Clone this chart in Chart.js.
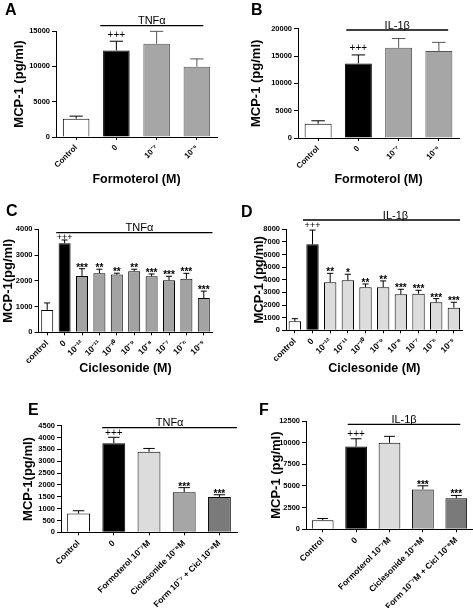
<!DOCTYPE html>
<html>
<head>
<meta charset="utf-8">
<script src="https://cdn.jsdelivr.net/npm/chart.js@4.4.1/dist/chart.umd.min.js"></script>
<style>
  body { margin: 0; background: #fff; }
  #wrap { position: relative; width: 473px; height: 608px; overflow: hidden; }
  canvas { position: absolute; }
</style>
</head>
<body>
<div id="wrap">
  <canvas id="panelA" width="236" height="198" style="left:0;top:0"></canvas>
  <canvas id="panelB" width="237" height="198" style="left:236px;top:0"></canvas>
  <canvas id="panelC" width="236" height="202" style="left:0;top:198px"></canvas>
  <canvas id="panelD" width="237" height="202" style="left:236px;top:198px"></canvas>
  <canvas id="panelE" width="240" height="208" style="left:0;top:400px"></canvas>
  <canvas id="panelF" width="237" height="208" style="left:236px;top:400px"></canvas>
</div>
<script>
// data (MCP-1, pg/ml; mean and upper SEM)
const formLabels = ['Control', '0', '10⁻⁷', '10⁻⁶'];
const cicLabels = ['control', '0', '10⁻¹²', '10⁻¹¹', '10⁻¹⁰', '10⁻⁹', '10⁻⁸', '10⁻⁷', '10⁻⁶', '10⁻⁵'];
const eLabels = ['Control', '0', 'Formoterol 10⁻⁷M', 'Ciclesonide 10⁻⁸M', 'Form 10⁻⁷ + Cicl 10⁻⁸M'];
const fLabels = ['Control', '0', 'Formoterol 10⁻⁷M', 'Ciclesonide 10⁻⁸M', 'Form 10⁻⁷M + Cicl 10⁻⁸M'];

const aMeans = [2600, 12250, 13200, 9950];
const aErrors = [350, 1300, 1750, 1100];
const aMarks = ['', '+++', '', ''];

const bMeans = [2600, 13650, 16500, 15900];
const bErrors = [550, 1550, 1700, 1600];
const bMarks = ['', '+++', '', ''];

const cMeans = [870, 3460, 2190, 2290, 2240, 2370, 2175, 2020, 2080, 1330];
const cErrors = [270, 125, 280, 160, 55, 80, 90, 155, 210, 270];
const cMarks = ['', '+++', '***', '**', '**', '**', '***', '***', '***', '***'];

const dMeans = [710, 6810, 3800, 3960, 3410, 3410, 2850, 2900, 2220, 1790];
const dErrors = [210, 1130, 710, 480, 260, 500, 400, 270, 290, 430];
const dMarks = ['', '+++', '**', '*', '**', '**', '***', '***', '***', '***'];

const eMeans = [790, 3760, 3400, 1690, 1490];
const eErrors = [120, 250, 140, 195, 95];
const eMarks = ['', '+++', '', '***', '***'];

const fMeans = [1050, 9550, 9980, 4600, 3580];
const fErrors = [200, 900, 750, 420, 330];
const fMarks = ['', '+++', '', '***', '***'];

const FONT = "Arial, 'Liberation Sans', sans-serif";
const GRAY = '#a6a6a6', LIGHT = '#dcdcdc', DARK = '#7a7a7a';

// error bars, significance marks, stimulus line and panel letter
const prismExtras = {
  id: 'prismExtras',
  afterDatasetsDraw(chart, args, o) {
    const { ctx, chartArea } = chart;
    const xs = chart.scales.x, ys = chart.scales.y;
    const vals = chart.data.datasets[0].data;
    const bars = chart.getDatasetMeta(0).data;
    ctx.save();
    bars.forEach((bar, i) => {
      const top = ys.getPixelForValue(vals[i] + o.errors[i]);
      const half = bar.width * 0.5 / 2;
      ctx.strokeStyle = o.errColors[i];
      ctx.lineWidth = 1;
      ctx.beginPath();
      ctx.moveTo(bar.x, bar.y);
      ctx.lineTo(bar.x, top);
      ctx.moveTo(bar.x - half, top);
      ctx.lineTo(bar.x + half, top);
      ctx.stroke();
      const m = o.marks[i];
      if (!m) return;
      ctx.fillStyle = '#000';
      ctx.textAlign = 'center';
      ctx.textBaseline = 'alphabetic';
      if (m[0] === '+') {
        ctx.font = `${o.plusSize}px ${FONT}`;
        ctx.fillText(m, bar.x, top - o.plusGap);
      } else {
        ctx.font = `bold 10px ${FONT}`;
        ctx.fillText(m, bar.x, top + 2);
      }
    });

    const t = o.treat;
    const step = xs.getPixelForValue(1) - xs.getPixelForValue(0);
    const x1 = xs.getPixelForValue(1) + t.fromOff * step;
    const x2 = xs.getPixelForValue(bars.length - 1) + t.toOff * step;
    const y = chartArea.top + t.dy;
    ctx.strokeStyle = '#000';
    ctx.lineWidth = 1.3;
    ctx.beginPath();
    ctx.moveTo(x1, y);
    ctx.lineTo(x2, y);
    ctx.stroke();
    ctx.fillStyle = '#000';
    ctx.font = `11px ${FONT}`;
    ctx.textAlign = 'center';
    ctx.textBaseline = 'alphabetic';
    ctx.fillText(t.text, (x1 + x2) / 2 + (t.textDx || 0), y - 1.5);

    ctx.font = `bold 16px ${FONT}`;
    ctx.textAlign = 'left';
    ctx.fillText(o.letter, o.letterX, o.letterY);
    ctx.restore();
  }
};

function makePanel(id, p) {
  const tickFont = { family: FONT, size: 7.5, weight: 'bold' };
  new Chart(document.getElementById(id), {
    type: 'bar',
    data: {
      labels: p.labels,
      datasets: [{
        data: p.means,
        backgroundColor: p.colors,
        borderColor: p.borders,
        borderWidth: 1,
        barPercentage: p.barPct,
        categoryPercentage: 1
      }]
    },
    options: {
      responsive: false,
      animation: false,
      layout: { padding: { left: 0, bottom: 0, top: p.padTop, right: p.padRight } },
      plugins: {
        legend: { display: false },
        tooltip: { enabled: false },
        prismExtras: {
          errors: p.errors, marks: p.marks, errColors: p.borders,
          plusSize: p.plusSize, plusGap: p.plusGap,
          treat: p.treat, letter: p.letter, letterX: p.letterX, letterY: p.letterY
        }
      },
      scales: {
        x: {
          grid: { display: true, drawOnChartArea: false, offset: false, tickLength: 3, color: '#000' },
          border: { display: true, color: '#000', width: 1 },
          ticks: {
            color: '#000', autoSkip: false, maxRotation: 45, minRotation: 45, padding: 3,
            font: { family: FONT, size: p.xTickSize, weight: 'bold' }
          },
          title: {
            display: !!p.xTitle, text: p.xTitle, color: '#000',
            font: { family: FONT, size: 12.5, weight: 'bold' },
            padding: { top: 0, bottom: p.xTitlePad }
          },
          afterFit(s) { s.height = p.xH; }
        },
        y: {
          min: 0, max: p.yMax,
          grid: { display: true, drawOnChartArea: false, tickLength: 4, color: '#000' },
          border: { display: true, color: '#000', width: 1 },
          ticks: {
            color: '#000', stepSize: p.step, padding: 2, font: tickFont,
            autoSkip: false, maxTicksLimit: 20, callback: v => String(v)
          },
          title: {
            display: true, text: p.yTitle, color: '#000',
            font: { family: FONT, size: 13, weight: 'bold' },
            padding: { top: p.yTitlePad, bottom: 0 }
          },
          afterFit(s) { s.width = p.yW; }
        }
      }
    },
    plugins: [prismExtras]
  });
}

makePanel('panelA', {
  labels: formLabels, means: aMeans, errors: aErrors, marks: aMarks,
  colors: ['#fff', '#000', GRAY, GRAY], borders: ['#000', '#000', '#555', '#555'],
  barPct: 0.66, yMax: 15000, step: 5000,
  yW: 56, xH: 61, padTop: 31, padRight: 19,
  xTickSize: 8, xTitle: 'Formoterol (M)', xTitlePad: 10.5,
  yTitle: 'MCP-1 (pg/ml)', yTitlePad: 11.2,
  plusSize: 10, plusGap: 3.5,
  treat: { text: 'TNFα', fromOff: -0.4, toOff: 0.16, dy: -5.3 },
  letter: 'A', letterX: 5, letterY: 15
});

makePanel('panelB', {
  labels: formLabels, means: bMeans, errors: bErrors, marks: bMarks,
  colors: ['#fff', '#000', GRAY, GRAY], borders: ['#000', '#000', '#555', '#555'],
  barPct: 0.67, yMax: 20000, step: 5000,
  yW: 62, xH: 60, padTop: 28.7, padRight: 14,
  xTickSize: 8, xTitle: 'Formoterol (M)', xTitlePad: 10.5,
  yTitle: 'MCP-1 (pg/ml)', yTitlePad: 12.2,
  plusSize: 10, plusGap: 3.5,
  treat: { text: 'IL-1β', fromOff: -0.3, toOff: 0.23, dy: 1.3 },
  letter: 'B', letterX: 15, letterY: 15
});

makePanel('panelC', {
  labels: cicLabels, means: cMeans, errors: cErrors, marks: cMarks,
  colors: ['#fff', '#000'].concat(Array(8).fill('#a3a3a3')), borders: Array(10).fill('#000'),
  barPct: 0.69, yMax: 4000, step: 1000,
  yW: 38.5, xH: 67.7, padTop: 31.3, padRight: 23.5,
  xTickSize: 8.5, xTitle: 'Ciclesonide (M)', xTitlePad: 24,
  yTitle: 'MCP-1(pg/ml)', yTitlePad: 0.5,
  plusSize: 9, plusGap: 0,
  treat: { text: 'TNFα', fromOff: -0.48, toOff: 0.5, dy: 3.4, textDx: 5 },
  letter: 'C', letterX: 6, letterY: 18
});

makePanel('panelD', {
  labels: cicLabels, means: dMeans, errors: dErrors, marks: dMarks,
  colors: ['#fff', '#000'].concat(Array(8).fill(LIGHT)), borders: Array(10).fill('#000'),
  barPct: 0.7, yMax: 8000, step: 1000,
  yW: 50, xH: 69.7, padTop: 31.3, padRight: 10.3,
  xTickSize: 8.5, xTitle: 'Ciclesonide (M)', xTitlePad: 24,
  yTitle: 'MCP-1 (pg/ml)', yTitlePad: 15.2,
  plusSize: 9, plusGap: 2,
  treat: { text: 'IL-1β', fromOff: -0.54, toOff: 0.35, dy: -9.3, textDx: 14 },
  letter: 'D', letterX: 5, letterY: 19
});

makePanel('panelE', {
  labels: eLabels, means: eMeans, errors: eErrors, marks: eMarks,
  colors: ['#fff', '#000', LIGHT, GRAY, DARK], borders: Array(5).fill('#000'),
  barPct: 0.65, yMax: 4500, step: 500,
  yW: 61, xH: 75.7, padTop: 25.7, padRight: 3,
  xTickSize: 8.5, xTitle: '', xTitlePad: 0,
  yTitle: 'MCP-1(pg/ml)', yTitlePad: 20.2,
  plusSize: 10, plusGap: 1.5,
  treat: { text: 'TNFα', fromOff: -0.33, toOff: 0.5, dy: 2 },
  letter: 'E', letterX: 28, letterY: 15
});

makePanel('panelF', {
  labels: fLabels, means: fMeans, errors: fErrors, marks: fMarks,
  colors: ['#fff', '#000', LIGHT, GRAY, DARK], borders: Array(5).fill('#000'),
  barPct: 0.65, yMax: 12500, step: 2500,
  yW: 70, xH: 78.7, padTop: 21, padRight: 0,
  xTickSize: 8.5, xTitle: '', xTitlePad: 0,
  yTitle: 'MCP-1 (pg/ml)', yTitlePad: 32.2,
  plusSize: 10, plusGap: 2,
  treat: { text: 'IL-1β', fromOff: -0.25, toOff: 0.12, dy: 3.3 },
  letter: 'F', letterX: 23, letterY: 15
});
</script>
</body>
</html>
